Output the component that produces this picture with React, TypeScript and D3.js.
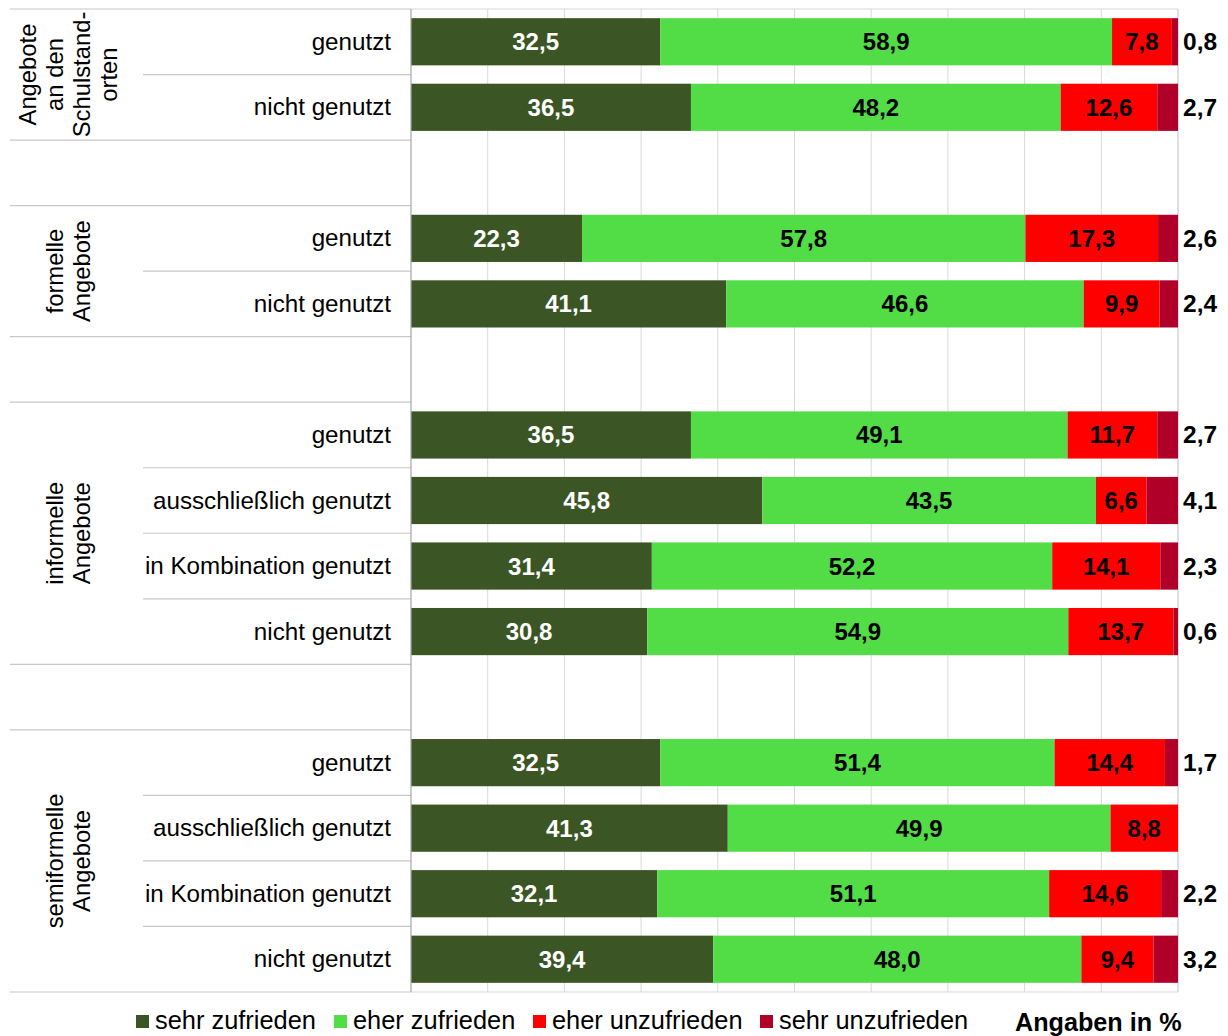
import React from "react";
import * as d3 from "d3";

const rowLabels = [
  "genutzt", "nicht genutzt", "",
  "genutzt", "nicht genutzt", "",
  "genutzt", "ausschließlich genutzt", "in Kombination genutzt", "nicht genutzt", "",
  "genutzt", "ausschließlich genutzt", "in Kombination genutzt", "nicht genutzt",
];
const sehrZufrieden = [32.5, 36.5, null, 22.3, 41.1, null, 36.5, 45.8, 31.4, 30.8, null, 32.5, 41.3, 32.1, 39.4];
const eherZufrieden = [58.9, 48.2, null, 57.8, 46.6, null, 49.1, 43.5, 52.2, 54.9, null, 51.4, 49.9, 51.1, 48.0];
const eherUnzufrieden = [7.8, 12.6, null, 17.3, 9.9, null, 11.7, 6.6, 14.1, 13.7, null, 14.4, 8.8, 14.6, 9.4];
const sehrUnzufrieden = [0.8, 2.7, null, 2.6, 2.4, null, 2.7, 4.1, 2.3, 0.6, null, 1.7, null, 2.2, 3.2];

const seriesNames = ["sehr zufrieden", "eher zufrieden", "eher unzufrieden", "sehr unzufrieden"];
const seriesColors = ["#3B5624", "#52DC46", "#FF0000", "#B0002A"];
const labelColors = ["#FFFFFF", "#000000", "#000000", "#000000"];

const groups = [
  { lines: ["Angebote", "an den", "Schulstand-", "orten"], from: 0, to: 1 },
  { lines: ["formelle", "Angebote"], from: 3, to: 4 },
  { lines: ["informelle", "Angebote"], from: 6, to: 9 },
  { lines: ["semiformelle", "Angebote"], from: 11, to: 14 },
];
const xTicks = [0, 10, 20, 30, 40, 50, 60, 70, 80, 90, 100];

const fmt = (v: number) => v.toFixed(1).replace(".", ",");

export default function App() {
  const W = 1228, H = 1036;
  const x = d3.scaleLinear().domain([0, 100]).range([411, 1178]);
  const idx = rowLabels.map((_, i) => i);
  const y = d3.scaleBand<number>().domain(idx).range([9, 992]).paddingInner(0.28).paddingOuter(0.14);
  const step = y.step();
  const top = 9;
  const slotTop = (i: number) => top + i * step;

  const allSeries = [sehrZufrieden, eherZufrieden, eherUnzufrieden, sehrUnzufrieden];
  const font = "'Liberation Sans', Arial, sans-serif";

  const seps: { yv: number; x1: number }[] = [];
  for (let i = 0; i <= rowLabels.length; i++) {
    const yv = slotTop(i);
    const isBoundary = groups.some(g => i === g.from || i === g.to + 1) || i === 0 || i === rowLabels.length;
    seps.push({ yv, x1: isBoundary ? 10 : 143 });
  }

  const legendX = [136, 334, 533, 760];

  return (
    <svg width={W} height={H} style={{ position: "absolute", left: 0, top: 0, background: "#fff" }} fontFamily={font}>
      {xTicks.slice(1).map(t => (
        <line key={t} x1={x(t)} x2={x(t)} y1={9} y2={992} stroke={t === 100 ? "#BFBFBF" : "#D9D9D9"} strokeWidth={1} />
      ))}
      {seps.map((s, i) => (
        <line key={i} x1={s.x1} x2={411} y1={s.yv} y2={s.yv} stroke="#C8C8C8" strokeWidth={1.2} />
      ))}
      <line x1={411} x2={1178} y1={9} y2={9} stroke="#D9D9D9" />
      <line x1={411} x2={1178} y1={992} y2={992} stroke="#D9D9D9" />
      {idx.map(i => {
        if (sehrZufrieden[i] == null) return null;
        let acc = 0;
        const y0 = y(i)!;
        const bh = y.bandwidth();
        const cy = y0 + bh / 2;
        return (
          <g key={i}>
            {allSeries.map((s, k) => {
              const v = s[i];
              if (v == null || v === 0) return null;
              const start = acc;
              acc += v;
              const x0 = x(start), x1 = x(start + v);
              const isLast = k === 3;
              return (
                <g key={k}>
                  <rect x={x0} y={y0} width={x1 - x0} height={bh} fill={seriesColors[k]} />
                  {isLast ? (
                    <text x={1183} y={cy + 8.5} fontSize={24.5} fontWeight="bold" fill="#000">{fmt(v)}</text>
                  ) : (
                    <text x={(x0 + x1) / 2} y={cy + 8.5} fontSize={24} fontWeight="bold" fill={labelColors[k]} textAnchor="middle">{fmt(v)}</text>
                  )}
                </g>
              );
            })}
          </g>
        );
      })}
      <line x1={411} x2={411} y1={9} y2={992} stroke="#A6A6A6" strokeWidth={1.2} />
      {idx.map(i => rowLabels[i] ? (
        <text key={i} x={391} y={y(i)! + y.bandwidth() / 2 + 8} fontSize={24.2} textAnchor="end" fill="#000">{rowLabels[i]}</text>
      ) : null)}
      {groups.map((g, gi) => {
        const cy = (slotTop(g.from) + slotTop(g.to + 1)) / 2;
        const n = g.lines.length;
        const lh = 27;
        const cx = 68;
        return (
          <g key={gi} transform={`translate(${cx},${cy}) rotate(-90)`}>
            {g.lines.map((l, li) => (
              <text key={li} x={0} y={(li - (n - 1) / 2) * lh + 8} fontSize={23.8} textAnchor="middle" fill="#000">{l}</text>
            ))}
          </g>
        );
      })}
      {seriesNames.map((n, k) => (
        <g key={k}>
          <rect x={legendX[k]} y={1015} width={13} height={13} fill={seriesColors[k]} />
          <text x={legendX[k] + 19} y={1029} fontSize={25.4} fill="#000">{n}</text>
        </g>
      ))}
      <text x={1015} y={1031} fontSize={25.2} fontWeight="bold" fill="#000">Angaben in %</text>
    </svg>
  );
}
